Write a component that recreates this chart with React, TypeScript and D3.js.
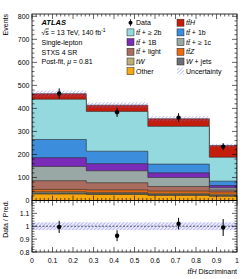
import React from 'react';
import * as d3 from 'd3';

// bin edges of the ttH discriminant
const binEdges = [0, 0.265, 0.565, 0.865, 1];

// process yields per bin (bottom of stack first)
const processes = [
  { key: 'other', values: [28, 26, 22, 18], color: '#f7a80c' },
  { key: 'wjets', values: [5, 4, 4, 4], color: '#6c6f76' },
  { key: 'tW', values: [5, 5, 5, 5], color: '#bbae78' },
  { key: 'ttZ', values: [10, 11, 10, 10], color: '#ea6a12' },
  { key: 'ttlight', values: [38, 31, 20, 9], color: '#a96c5e' },
  { key: 'tt1c', values: [62, 52, 39, 9], color: '#99a8a4' },
  { key: 'tt1B', values: [38, 31, 20, 10], color: '#7a2bb8' },
  { key: 'tt1b', values: [79, 54, 38, 19], color: '#3c8ddb' },
  { key: 'tt2b', values: [175, 173, 164, 104], color: '#93d9de' },
  { key: 'ttH', values: [24, 27, 33, 51], color: '#c41d0c' },
];

const dataValues = [465, 383, 360, 234];
const dataErrors = [22, 20, 19, 15];
const ratioValues = [0.995, 0.926, 1.02, 0.99];
const ratioErrors = [0.047, 0.042, 0.045, 0.066];
const uncertainty = 0.03;

const yTicksMain = [0, 100, 200, 300, 400, 500, 600, 700, 800];
const yTicksRatio = [0.8, 0.9, 1, 1.1];
const xTicks = [0, 0.1, 0.2, 0.3, 0.4, 0.5, 0.6, 0.7, 0.8, 0.9, 1];

const font = 'Liberation Sans, Arial, sans-serif';

const TT = () => <tspan fontStyle="italic">t{'t\u0304'}</tspan>;

export default function App() {
  const left = 32, right = 237;
  const mainTop = 14, mainBottom = 200.5, ratioBottom = 252;
  const x = d3.scaleLinear().domain([0, 1]).range([left, right]);
  const y = d3.scaleLinear().domain([0, 810]).range([mainBottom, mainTop]);
  const yr = d3.scaleLinear().domain([0.8, 1.2]).range([ratioBottom, mainBottom]);

  // cumulative stacks
  const cumul: number[][] = [];
  processes.forEach((p, i) => {
    cumul.push(p.values.map((v, b) => v + (i > 0 ? cumul[i - 1][b] : 0)));
  });
  const totals = cumul[cumul.length - 1];

  const stepArea = (vals: number[], y0: (b: number) => number, y1: (b: number) => number) => {
    const pts = binEdges.map((e, i) => ({ e, b: Math.min(i, vals.length - 1) }));
    return d3.area<{ e: number; b: number }>()
      .curve(d3.curveStepAfter)
      .x(d => x(d.e))
      .y0(d => y0(d.b))
      .y1(d => y1(d.b))(pts) as string;
  };

  const ticksFor = (scale: d3.ScaleLinear<number, number>, step: number, minorN: number) => {
    const [a, b] = scale.domain();
    const out: { v: number; major: boolean }[] = [];
    const n = Math.round((b - a) / (step / minorN));
    for (let i = 0; i <= n; i++) {
      const v = a + (i * step) / minorN;
      out.push({ v, major: i % minorN === 0 });
    }
    return out;
  };

  const mainYT = ticksFor(y, 100, 5).filter(t => t.v <= 810);
  const ratioYT = ticksFor(yr, 0.1, 5);
  const xT = ticksFor(x, 0.1, 5);

  const legendCol1 = [
    { label: 'data' },
    { label: <><TT /> + ≥ 2b</>, color: '#93d9de' },
    { label: <><TT /> + 1B</>, color: '#7a2bb8' },
    { label: <><TT /> + light</>, color: '#a96c5e' },
    { label: <tspan fontStyle="italic">tW</tspan>, color: '#bbae78' },
    { label: 'Other', color: '#f7a80c' },
  ];
  const legendCol2 = [
    { label: <><TT /><tspan fontStyle="italic">H</tspan></>, color: '#c41d0c' },
    { label: <><TT /> + 1b</>, color: '#3c8ddb' },
    { label: <><TT /> + ≥ 1c</>, color: '#99a8a4' },
    { label: <><TT /><tspan fontStyle="italic">Z</tspan></>, color: '#ea6a12' },
    { label: <><tspan fontStyle="italic">W</tspan> + jets</>, color: '#6c6f76' },
    { label: 'Uncertainty', hatch: true },
  ];

  const renderLegend = (items: any[], bx: number) =>
    items.map((it, i) => {
      const cy = 22.7 + i * 9.7;
      return (
        <g key={i}>
          {it.label === 'data' ? (
            <g>
              <line x1={bx + 3.5} x2={bx + 3.5} y1={cy - 3.5} y2={cy + 3.5} stroke="#000" strokeWidth={0.8} />
              <circle cx={bx + 3.5} cy={cy} r={2} fill="#000" />
            </g>
          ) : it.hatch ? (
            <rect x={bx} y={cy - 3.5} width={7} height={7} fill="url(#hatch)" />
          ) : (
            <rect x={bx} y={cy - 3.5} width={7} height={7} fill={it.color} stroke="#222" strokeWidth={0.5} />
          )}
          <text x={bx + 9} y={cy + 2.5} fontSize={7} fontFamily={font}>
            {it.label === 'data' ? 'Data' : it.label}
          </text>
        </g>
      );
    });

  return (
    <svg width={249} height={279} style={{ position: 'absolute', left: 0, top: 0, background: '#fff' }}>
      <defs>
        <pattern id="hatch" width={2.6} height={2.6} patternUnits="userSpaceOnUse" patternTransform="rotate(45)">
          <line x1={0} y1={0} x2={0} y2={2.6} stroke="#6f6ff2" strokeWidth={0.8} />
        </pattern>
        <clipPath id="mainClip">
          <rect x={left} y={mainTop} width={right - left} height={mainBottom - mainTop} />
        </clipPath>
        <clipPath id="ratioClip">
          <rect x={left} y={mainBottom} width={right - left} height={ratioBottom - mainBottom} />
        </clipPath>
      </defs>

      {/* stacked histograms, drawn from top of stack downward */}
      <g clipPath="url(#mainClip)">
        {processes.map((p, i) => i).reverse().map(i => (
          <path
            key={processes[i].key}
            d={stepArea(cumul[i], () => y(0), b => y(cumul[i][b]))}
            fill={processes[i].color}
            stroke="#2a2a2a"
            strokeWidth={0.6}
          />
        ))}
        {/* uncertainty band */}
        <path
          d={stepArea(totals, b => y(totals[b] * (1 - uncertainty)), b => y(totals[b] * (1 + uncertainty)))}
          fill="url(#hatch)"
        />
      </g>

      {/* data points */}
      {dataValues.map((v, i) => {
        const cx = x((binEdges[i] + binEdges[i + 1]) / 2);
        return (
          <g key={i}>
            <line x1={cx} x2={cx} y1={y(v - dataErrors[i])} y2={y(v + dataErrors[i])} stroke="#000" strokeWidth={1} />
            <circle cx={cx} cy={y(v)} r={2.2} fill="#000" />
          </g>
        );
      })}

      {/* ratio panel */}
      <g clipPath="url(#ratioClip)">
        <rect x={left} y={yr(1 + uncertainty)} width={right - left} height={yr(1 - uncertainty) - yr(1 + uncertainty)} fill="url(#hatch)" />
        <rect x={left} y={yr(1 + uncertainty)} width={right - left} height={yr(1 - uncertainty) - yr(1 + uncertainty)} fill="#6f6ff2" opacity={0.12} />
        <line x1={left} x2={right} y1={yr(1)} y2={yr(1)} stroke="#222" strokeWidth={0.7} strokeDasharray="2,1.5" />
      </g>
      {ratioValues.map((v, i) => {
        const cx = x((binEdges[i] + binEdges[i + 1]) / 2);
        return (
          <g key={i}>
            <line x1={cx} x2={cx} y1={yr(v - ratioErrors[i])} y2={yr(v + ratioErrors[i])} stroke="#000" strokeWidth={1} />
            <circle cx={cx} cy={yr(v)} r={2.2} fill="#000" />
          </g>
        );
      })}

      {/* frames */}
      <rect x={left} y={mainTop} width={right - left} height={mainBottom - mainTop} fill="none" stroke="#000" strokeWidth={0.8} />
      <rect x={left} y={mainBottom} width={right - left} height={ratioBottom - mainBottom} fill="none" stroke="#000" strokeWidth={0.8} />

      {/* ticks */}
      <g stroke="#000" strokeWidth={0.6}>
        {mainYT.map((t, i) => {
          const len = t.major ? 5 : 2.5;
          return (
            <g key={'my' + i}>
              <line x1={left} x2={left + len} y1={y(t.v)} y2={y(t.v)} />
              <line x1={right} x2={right - len} y1={y(t.v)} y2={y(t.v)} />
            </g>
          );
        })}
        {ratioYT.map((t, i) => {
          const len = t.major ? 5 : 2.5;
          return (
            <g key={'ry' + i}>
              <line x1={left} x2={left + len} y1={yr(t.v)} y2={yr(t.v)} />
              <line x1={right} x2={right - len} y1={yr(t.v)} y2={yr(t.v)} />
            </g>
          );
        })}
        {xT.map((t, i) => {
          const len = t.major ? 5 : 2.5;
          const xx = x(t.v);
          return (
            <g key={'x' + i}>
              <line x1={xx} x2={xx} y1={mainTop} y2={mainTop + len} />
              <line x1={xx} x2={xx} y1={mainBottom} y2={mainBottom - len} />
              <line x1={xx} x2={xx} y1={mainBottom} y2={mainBottom + len} />
              <line x1={xx} x2={xx} y1={ratioBottom} y2={ratioBottom - len} />
            </g>
          );
        })}
      </g>

      {/* tick labels */}
      <g fontFamily={font} fontSize={7} fill="#000">
        {yTicksMain.map(v => (
          <text key={'ml' + v} x={left - 2.5} y={y(v) + 2.5} textAnchor="end">{v}</text>
        ))}
        {yTicksRatio.map(v => (
          <text key={'rl' + v} x={left - 2.5} y={yr(v) + 2.5} textAnchor="end">{d3.format('~g')(v)}</text>
        ))}
        {xTicks.map(v => (
          <text key={'xl' + v} x={x(v)} y={262.5} textAnchor="middle">{d3.format('~g')(v)}</text>
        ))}
      </g>

      {/* axis titles */}
      <text transform="translate(7.5,14) rotate(-90)" textAnchor="end" fontFamily={font} fontSize={7}>Events</text>
      <text transform={`translate(7.5,${mainBottom}) rotate(-90)`} textAnchor="end" fontFamily={font} fontSize={7}>Data / Pred.</text>
      <text x={right} y={273.5} textAnchor="end" fontFamily={font} fontSize={7}>
        <TT /><tspan fontStyle="italic">H</tspan> Discriminant
      </text>

      {/* ATLAS label */}
      <g fontFamily={font} fontSize={7}>
        <text x={41.5} y={25} fontWeight="bold" fontStyle="italic" fontSize={7.5}>ATLAS</text>
        <text x={41.5} y={34.6}>√<tspan textDecoration="overline">s</tspan> = 13 TeV, 140 fb<tspan dy={-2.5} fontSize={5}>-1</tspan></text>
        <text x={41.5} y={45}>Single-lepton</text>
        <text x={41.5} y={54.6}>STXS 4 SR</text>
        <text x={41.5} y={64.3}>Post-fit, <tspan fontStyle="italic">μ</tspan> = 0.81</text>
      </g>

      {/* legend */}
      {renderLegend(legendCol1, 127)}
      {renderLegend(legendCol2, 177)}
    </svg>
  );
}
